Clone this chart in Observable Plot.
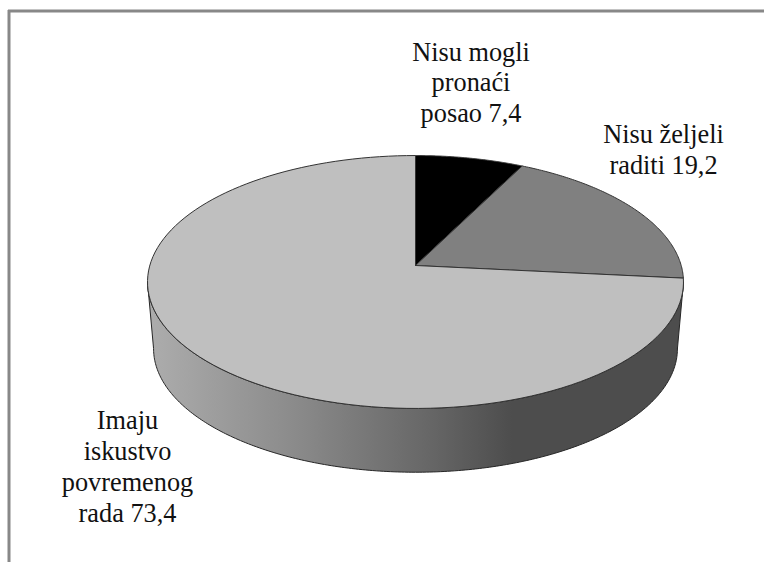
<!DOCTYPE html>
<html>
<head>
<meta charset="utf-8">
<script src="https://cdn.jsdelivr.net/npm/d3@7"></script>
<script src="https://cdn.jsdelivr.net/npm/@observablehq/plot@0.6"></script>
<style>html,body{margin:0;padding:0;background:#fff}svg{display:block}</style>
</head>
<body>
<div id="chart"></div>
<script>
const categories = ["Nisu mogli\npronaći\nposao", "Nisu željeli\nraditi", "Imaju\niskustvo\npovremenog\nrada"];
const values = [7.4, 19.2, 73.4];
const sliceColors = ["#000000", "#808080", "#bfbfbf"];

// Perspective view of the disc (tilted, nearer edge looks larger)
const view = {cx: 415, cy: 265, b: 265.7, a: 124.3, k: 0.1304};
const lower = {cx: 415, cy: 332, b: 259.7, a: 121.5, k: 0.1304};
const project = (p, deg) => {
  const t = deg * Math.PI / 180, u = Math.sin(t), v = Math.cos(t), w = 1 + p.k * v;
  return {x: p.cx + p.b * u / w, y: p.cy - p.a * v / w};
};

const total = d3.sum(values);
const cumulative = d3.cumsum(values);
const slices = categories.flatMap((name, i) => {
  const from = (i ? cumulative[i - 1] : 0) / total * 360;
  const to = cumulative[i] / total * 360;
  const rim = d3.range(0, 121).map(j => project(view, from + (to - from) * j / 120));
  const apex = {x: view.cx, y: view.cy};
  return [apex, ...rim, apex].map(p => ({...p, name}));
});

// Visible side wall: between the two silhouette points of the disc
const silhouette = Math.acos(-view.k) * 180 / Math.PI;
const sweep = d3.range(0, 241).map(j => silhouette + (360 - 2 * silhouette) * j / 240);
const wall = [...sweep.map(d => project(lower, d)), ...sweep.slice().reverse().map(d => project(view, d))];
wall.push(wall[0]);

const labels = categories.map((c, i) => `${c} ${String(values[i]).replace(".", ",")}`);
const labelX = [470.5, 663, 127];
const labelY = [81, 148.5, 465];

const defs = () => {
  const ns = "http://www.w3.org/2000/svg";
  const d = document.createElementNS(ns, "defs");
  const g = document.createElementNS(ns, "linearGradient");
  g.setAttribute("id", "wallShade");
  [[0, "#adadad"], [0.28, "#8a8a8a"], [0.53, "#666666"], [0.68, "#4d4d4d"], [1, "#4d4d4d"]].forEach(([o, c]) => {
    const s = document.createElementNS(ns, "stop");
    s.setAttribute("offset", o);
    s.setAttribute("stop-color", c);
    g.appendChild(s);
  });
  d.appendChild(g);
  return d;
};

const chart = Plot.plot({
  width: 764,
  height: 562,
  margin: 0,
  style: {background: "#fff"},
  x: {domain: [0, 764], range: [0, 764], axis: null},
  y: {domain: [0, 562], range: [0, 562], axis: null},
  color: {domain: categories, range: sliceColors},
  marks: [
    defs,
    Plot.ruleX([8.5], {y1: 10, y2: 562, stroke: "#888888", strokeWidth: 3}),
    Plot.ruleY([10.5], {x1: 8, x2: 764, stroke: "#888888", strokeWidth: 3}),
    Plot.line(wall, {x: "x", y: "y", fill: "url(#wallShade)", stroke: "#262626", strokeWidth: 1}),
    Plot.line(slices, {x: "x", y: "y", z: "name", fill: "name", stroke: "#333333", strokeWidth: 1, strokeLinejoin: "round"}),
    Plot.text(labels, {
      x: (d, i) => labelX[i],
      y: (d, i) => labelY[i],
      text: d => d,
      textAnchor: "middle",
      lineAnchor: "middle",
      lineHeight: 1.17,
      fontFamily: "Liberation Serif",
      fontSize: 26.3,
      fill: "#111"
    })
  ]
});
document.getElementById("chart").appendChild(chart);
</script>
</body>
</html>
